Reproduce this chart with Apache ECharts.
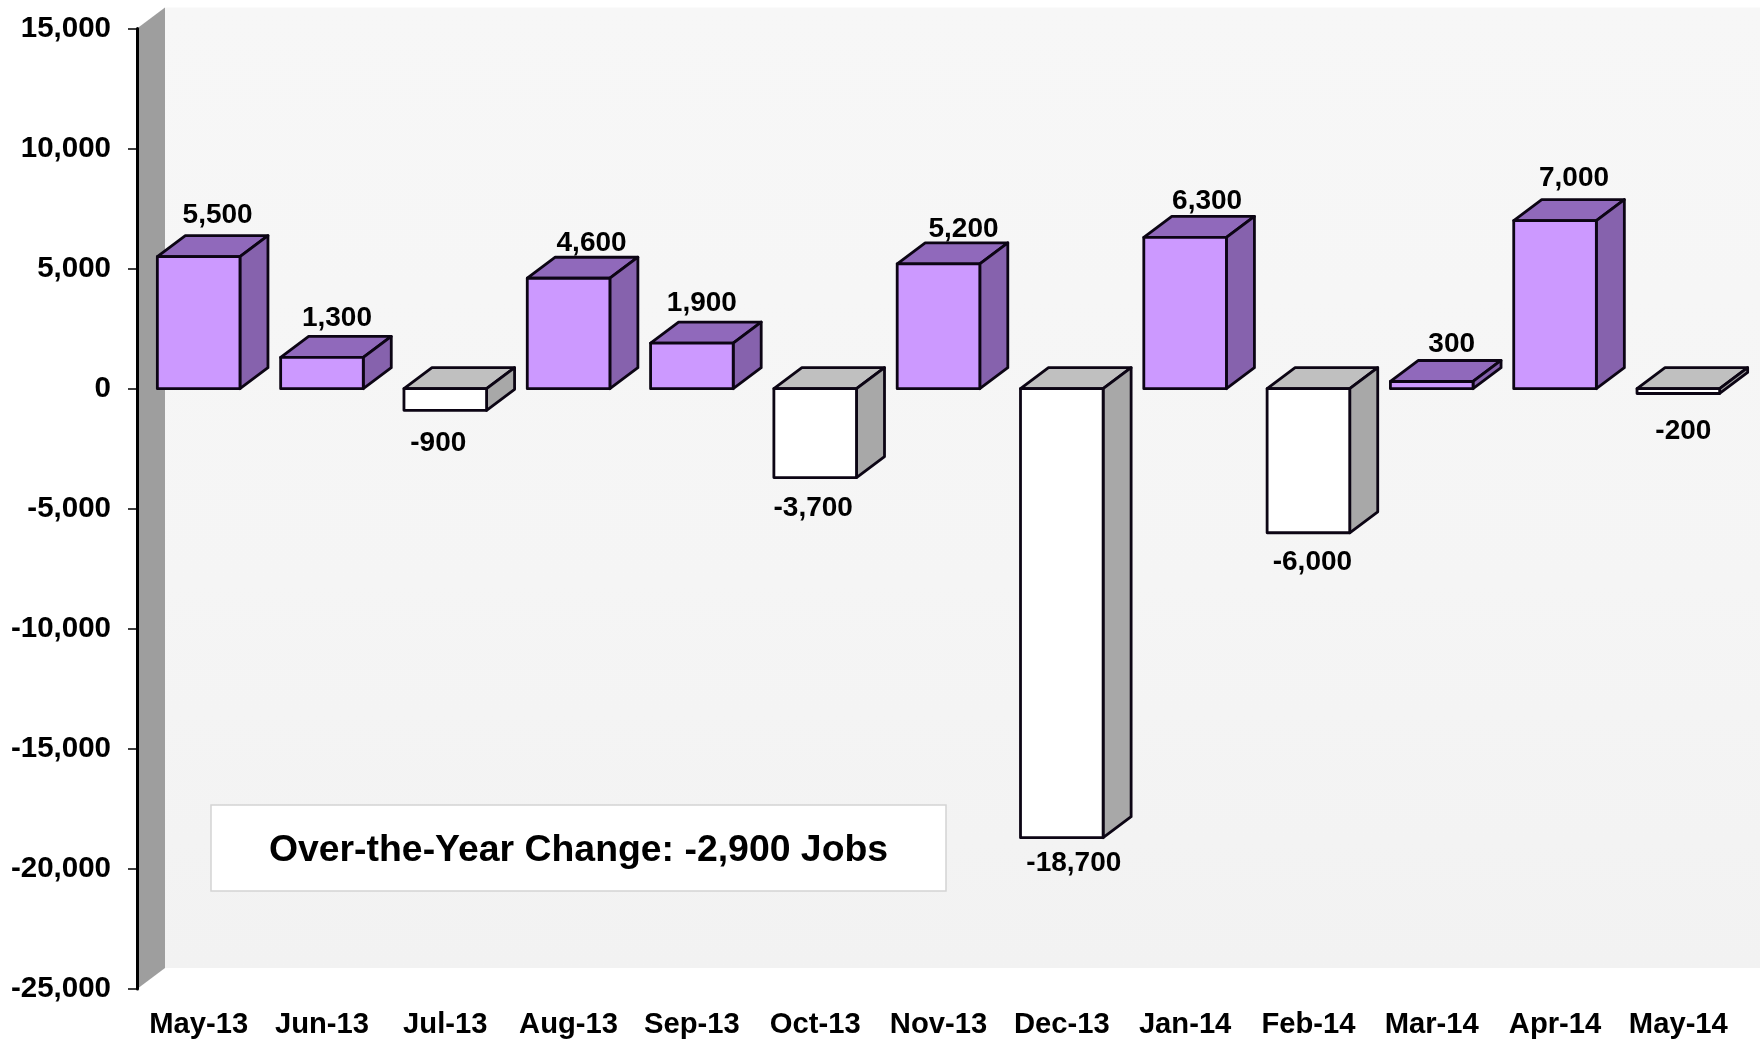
<!DOCTYPE html>
<html>
<head>
<meta charset="utf-8">
<title>Over-the-Year Change</title>
<style>
  html, body { margin: 0; padding: 0; background: #fff; }
  #chart { width: 1760px; height: 1041px; }
</style>
<script src="https://cdn.jsdelivr.net/npm/echarts@6/dist/echarts.min.js"></script>
</head>
<body>
<div id="chart"></div>
<script>
const months = ['May-13', 'Jun-13', 'Jul-13', 'Aug-13', 'Sep-13', 'Oct-13', 'Nov-13', 'Dec-13', 'Jan-14', 'Feb-14', 'Mar-14', 'Apr-14', 'May-14']
const jobChange = [5500, 1300, -900, 4600, 1900, -3700, 5200, -18700, 6300, -6000, 300, 7000, -200]
const axisMin = -25000
const axisMax = 15000
const axisStep = 5000
const noteText = 'Over-the-Year Change: -2,900 Jobs'

// hand placed data labels in the original, offset from the bar end
const labelDx = [19, 15, -7, 23, 10, -2, 25, 12, 22, 4, 20, 19, 5]
const labelDy = [-41, -39, 33, -35, -40, 31, -35, 26, -36, 30, -37, -42, 38]

const FONT = '"Liberation Sans", Arial, sans-serif'
const DEPTH_X = 28
const DEPTH_Y = 21
const INK = '#0c0514'

const fmt = (v) => v.toLocaleString('en-US')

const renderWall = (params, api) => {
  const c = params.coordSys
  const x0 = c.x
  const x1 = c.x + DEPTH_X
  const top = c.y
  const bottom = c.y + c.height
  return {
    type: 'group',
    children: [
      {
        type: 'rect',
        shape: { x: x1, y: top - DEPTH_Y, width: 1760 - x1, height: c.height },
        style: {
          fill: new echarts.graphic.LinearGradient(0, 0, 0, 1, [
            { offset: 0, color: '#f7f7f7' },
            { offset: 0.6, color: '#f5f5f5' },
            { offset: 1, color: '#f2f2f2' },
          ]),
        },
      },
      {
        type: 'polygon',
        shape: { points: [[x0, top], [x1, top - DEPTH_Y], [x1, bottom - DEPTH_Y], [x0, bottom]] },
        style: { fill: '#9e9e9e' },
      },
    ],
  }
}

const renderBar = (params, api) => {
  const idx = api.value(0)
  const val = api.value(1)
  const base = api.coord([idx, 0])
  const end = api.coord([idx, val])
  const w = api.size([1, 0])[0] * 0.67
  const left = base[0] - w / 2
  const right = base[0] + w / 2
  const hi = Math.min(base[1], end[1])
  const lo = Math.max(base[1], end[1])
  const up = val >= 0
  const front = up ? '#cc99ff' : '#ffffff'
  const topFill = up ? '#9069bb' : '#c0c0c0'
  const sideFill = up ? '#8662ad' : '#a8a8a8'
  const line = { stroke: INK, lineWidth: 2.8, lineJoin: 'round' }
  return {
    type: 'group',
    children: [
      {
        type: 'polygon',
        shape: { points: [[left, hi], [left + DEPTH_X, hi - DEPTH_Y], [right + DEPTH_X, hi - DEPTH_Y], [right, hi]] },
        style: { fill: topFill, ...line },
      },
      {
        type: 'polygon',
        shape: { points: [[right, hi], [right + DEPTH_X, hi - DEPTH_Y], [right + DEPTH_X, lo - DEPTH_Y], [right, lo]] },
        style: { fill: sideFill, ...line },
      },
      {
        type: 'rect',
        shape: { x: left, y: hi, width: w, height: lo - hi },
        style: { fill: front, ...line },
      },
      {
        type: 'text',
        x: base[0] + labelDx[idx],
        y: end[1] + labelDy[idx],
        style: {
          text: fmt(val),
          fill: '#000',
          font: 'bold 28px ' + FONT,
          textAlign: 'center',
          textVerticalAlign: 'middle',
        },
      },
    ],
  }
}

const chart = echarts.init(document.getElementById('chart'), null, { renderer: 'canvas' })

chart.setOption({
  animation: false,
  backgroundColor: '#ffffff',
  grid: { left: 137, right: 20, top: 28.5, bottom: 52, containLabel: false },
  xAxis: {
    type: 'category',
    data: months,
    position: 'bottom',
    axisLine: { show: false },
    axisTick: { show: false },
    axisLabel: { color: '#000', fontFamily: FONT, fontWeight: 'bold', fontSize: 29.2, margin: 21, interval: 0 },
  },
  yAxis: {
    type: 'value',
    min: axisMin,
    max: axisMax,
    interval: axisStep,
    z: 5,
    splitLine: { show: false },
    axisLine: { show: true, lineStyle: { color: '#000', width: 3 } },
    axisTick: { show: true, length: 9, lineStyle: { color: '#000', width: 1.5 } },
    axisLabel: { color: '#000', fontFamily: FONT, fontWeight: 'bold', fontSize: 29.5, margin: 26, formatter: (v) => fmt(v) },
  },
  series: [
    {
      type: 'custom',
      name: 'wall',
      silent: true,
      clip: false,
      z: 1,
      renderItem: renderWall,
      data: [[0, 0]],
    },
    {
      type: 'custom',
      name: 'Over-the-Year Change',
      clip: false,
      z: 3,
      renderItem: renderBar,
      encode: { x: 0, y: 1 },
      data: jobChange.map((v, i) => [i, v]),
    },
  ],
  graphic: [
    {
      type: 'rect',
      z: 4,
      shape: { x: 211, y: 805, width: 735, height: 86 },
      style: { fill: '#ffffff', stroke: '#d4d4d4', lineWidth: 1.5 },
    },
    {
      type: 'text',
      z: 5,
      x: 578.5,
      y: 851,
      style: {
        text: noteText,
        fill: '#000',
        font: 'bold 37.4px ' + FONT,
        textAlign: 'center',
        textVerticalAlign: 'middle',
      },
    },
  ],
})
</script>
</body>
</html>
